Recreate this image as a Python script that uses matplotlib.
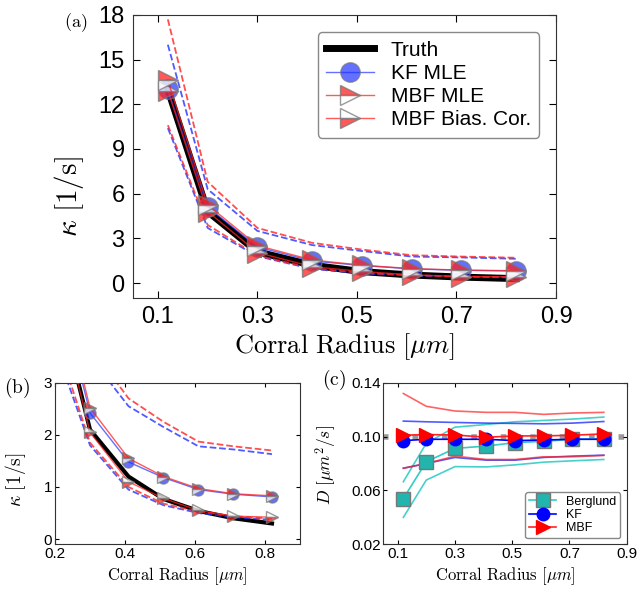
import matplotlib
matplotlib.use("Agg")
import matplotlib.pyplot as plt
from matplotlib.lines import Line2D

plt.rcParams['mathtext.fontset'] = 'cm'
plt.rcParams['font.family'] = ['Liberation Sans', 'DejaVu Sans']

# corral radius [um]
radius = [0.12, 0.2, 0.3, 0.41, 0.51, 0.61, 0.71, 0.82]

# kappa estimates [1/s]
kappa_truth = [13.0, 4.8, 2.1, 1.2, 0.77, 0.54, 0.40, 0.30]
kappa_kf = [13.0, 5.1, 2.42, 1.48, 1.18, 0.95, 0.86, 0.81]
kappa_mbf = [13.6, 5.25, 2.52, 1.55, 1.2, 0.97, 0.87, 0.83]
kappa_mbf_bc = [12.9, 4.8, 2.05, 1.1, 0.78, 0.55, 0.44, 0.42]
kappa_kf_upper = [16.0, 6.3, 3.5, 2.55, 2.15, 1.78, 1.72, 1.63]
kappa_mbf_upper = [17.7, 6.8, 3.7, 2.7, 2.25, 1.87, 1.78, 1.70]
kappa_kf_lower = [10.4, 3.7, 1.8, 0.95, 0.65, 0.5, 0.42, 0.37]
kappa_mbf_lower = [10.6, 3.9, 1.85, 1.0, 0.68, 0.53, 0.44, 0.39]

# diffusion estimates [um^2/s]
d_truth = 0.1
d_berglund = [0.054, 0.0813, 0.0912, 0.093, 0.0955, 0.0965, 0.098, 0.0985]
d_kf = [0.097, 0.098, 0.098, 0.098, 0.097, 0.0975, 0.098, 0.098]
d_mbf = [0.101, 0.1015, 0.1012, 0.0995, 0.1005, 0.1005, 0.101, 0.102]
d_berglund_upper = [0.0665, 0.095, 0.107, 0.109, 0.111, 0.112, 0.113, 0.1145]
d_berglund_lower = [0.040, 0.0677, 0.0777, 0.0775, 0.079, 0.081, 0.082, 0.083]
d_kf_upper = [0.1115, 0.111, 0.1105, 0.110, 0.1098, 0.1095, 0.110, 0.1112]
d_kf_lower = [0.0765, 0.080, 0.0845, 0.0825, 0.0825, 0.0845, 0.0855, 0.0862]
d_mbf_upper = [0.132, 0.1225, 0.119, 0.118, 0.118, 0.1165, 0.1175, 0.118]
d_mbf_lower = [0.0765, 0.080, 0.0855, 0.083, 0.083, 0.085, 0.085, 0.086]

BLUE = '#2233ff'
RED = '#ff2222'
CYAN = '#33ccc4'
EDGE = '#777777'

xlab = r'$\mathrm{Corral\ Radius}\ [\mu m]$'
klab = r'$\kappa\ [\mathrm{1/s}]$'


def style_axes(ax, size):
    ax.tick_params(direction='in', top=True, right=True, length=5,
                   labelsize=size, pad=6)
    for sp in ax.spines.values():
        sp.set_color('#333333')


def kappa_panel(ax, ms, lw_truth):
    ax.plot(radius, kappa_truth, color='black', lw=lw_truth, zorder=2)
    ax.plot(radius, kappa_kf_upper, '--', color=BLUE, lw=1.3, alpha=0.8)
    ax.plot(radius, kappa_kf_lower, '--', color=BLUE, lw=1.3, alpha=0.8)
    ax.plot(radius, kappa_mbf_upper, '--', color=RED, lw=1.3, alpha=0.8)
    ax.plot(radius, kappa_mbf_lower, '--', color=RED, lw=1.3, alpha=0.8)
    ax.plot(radius, kappa_kf, '-o', color=BLUE, lw=1, ms=ms, alpha=0.7,
            mec=EDGE, zorder=3)
    ax.plot(radius, kappa_mbf_bc, '->', color=RED, lw=1, ms=ms, alpha=0.75,
            mfc=RED, mfcalt='white', fillstyle='bottom', mec=EDGE, zorder=4)
    ax.plot(radius, kappa_mbf, '->', color=RED, lw=1, ms=ms, alpha=0.75,
            mfc=RED, mfcalt='white', fillstyle='top', mec=EDGE, zorder=4)


fig = plt.figure(figsize=(6.38, 5.91), dpi=100)

# (a)
ax_a = fig.add_axes([0.2085, 0.4958, 0.663, 0.479])
kappa_panel(ax_a, 14, 5)
ax_a.set_xlim(0.05, 0.9)
ax_a.set_ylim(-1, 18)
ax_a.set_xticks([0.1, 0.3, 0.5, 0.7, 0.9])
ax_a.set_yticks([0, 3, 6, 9, 12, 15, 18])
style_axes(ax_a, 17)
ax_a.set_xlabel(xlab, fontsize=19, labelpad=2)
ax_a.set_ylabel(klab, fontsize=21)
ax_a.yaxis.set_label_coords(-0.112, 0.357)
handles = [
    Line2D([], [], color='black', lw=5),
    Line2D([], [], color=BLUE, marker='o', ms=14, alpha=0.7, mec=EDGE, lw=1),
    Line2D([], [], color=RED, marker='>', ms=14, alpha=0.75, mfc=RED,
           mfcalt='white', fillstyle='top', mec=EDGE, lw=1),
    Line2D([], [], color=RED, marker='>', ms=14, alpha=0.75, mfc=RED,
           mfcalt='white', fillstyle='bottom', mec=EDGE, lw=1),
]
ax_a.legend(handles, ['Truth', 'KF MLE', 'MBF MLE', 'MBF Bias. Cor.'],
            loc='upper right', fontsize=15, labelspacing=0.2,
            handlelength=2.3, borderpad=0.4, edgecolor='#888888',
            fancybox=True, framealpha=1, bbox_to_anchor=(0.985, 0.975))
fig.text(0.118, 0.962, r'$\mathrm{(a)}$', fontsize=13,
         ha='center', va='center')

# (b)
ax_b = fig.add_axes([0.0862, 0.079, 0.384, 0.2734])
kappa_panel(ax_b, 8, 3)
ax_b.set_xlim(0.2, 0.9)
ax_b.set_ylim(-0.1, 3)
ax_b.set_xticks([0.2, 0.4, 0.6, 0.8])
ax_b.set_yticks([0, 1, 2, 3])
style_axes(ax_b, 11)
ax_b.tick_params(pad=2, length=3)
ax_b.set_xlabel(xlab, fontsize=12, labelpad=3)
ax_b.set_ylabel(klab, fontsize=14)
ax_b.yaxis.set_label_coords(-0.11, 0.40)
fig.text(0.026, 0.343, r'$\mathrm{(b)}$', fontsize=14,
         ha='center', va='center')

# (c)
ax_c = fig.add_axes([0.6008, 0.079, 0.3815, 0.2734])
ax_c.axhline(d_truth, color='#999999', lw=4, ls=':', zorder=1)
ax_c.plot(radius, d_berglund_upper, color=CYAN, lw=1.2, alpha=0.9)
ax_c.plot(radius, d_berglund_lower, color=CYAN, lw=1.2, alpha=0.9)
ax_c.plot(radius, d_kf_upper, color=BLUE, lw=1.2, alpha=0.8)
ax_c.plot(radius, d_kf_lower, color=BLUE, lw=1.2, alpha=0.8)
ax_c.plot(radius, d_mbf_upper, color=RED, lw=1.2, alpha=0.7)
ax_c.plot(radius, d_mbf_lower, color=RED, lw=1.2, alpha=0.7)
ax_c.plot(radius, d_berglund, '-s', color=CYAN, lw=1.2, ms=10,
          mfc='#22b5ad', mec=EDGE, label='Berglund', zorder=3)
ax_c.plot(radius, d_kf, '-o', color='blue', lw=1.2, ms=9,
          mfc='blue', mec='blue', label='KF', zorder=4)
ax_c.plot(radius, d_mbf, '->', color=RED, lw=1.2, ms=10,
          mfc='red', mec='red', label='MBF', zorder=5)
ax_c.set_xlim(0.05, 0.9)
ax_c.set_ylim(0.02, 0.14)
ax_c.set_xticks([0.1, 0.3, 0.5, 0.7, 0.9])
ax_c.set_yticks([0.02, 0.06, 0.10, 0.14])
ax_c.set_yticklabels(['0.02', '0.06', '0.10', '0.14'])
style_axes(ax_c, 11)
ax_c.tick_params(pad=2, length=3)
ax_c.set_xlabel(xlab, fontsize=12, labelpad=3)
ax_c.set_ylabel(r'$D\ [\mu m^2/s]$', fontsize=12.5)
ax_c.yaxis.set_label_coords(-0.182, 0.49)
ax_c.legend(loc='lower right', fontsize=9, labelspacing=0.1,
            handlelength=2.2, borderpad=0.3, edgecolor='#888888',
            fancybox=True, framealpha=1)
fig.text(0.524, 0.357, r'$\mathrm{(c)}$', fontsize=14,
         ha='center', va='center')

fig.savefig('out.png', dpi=100)
